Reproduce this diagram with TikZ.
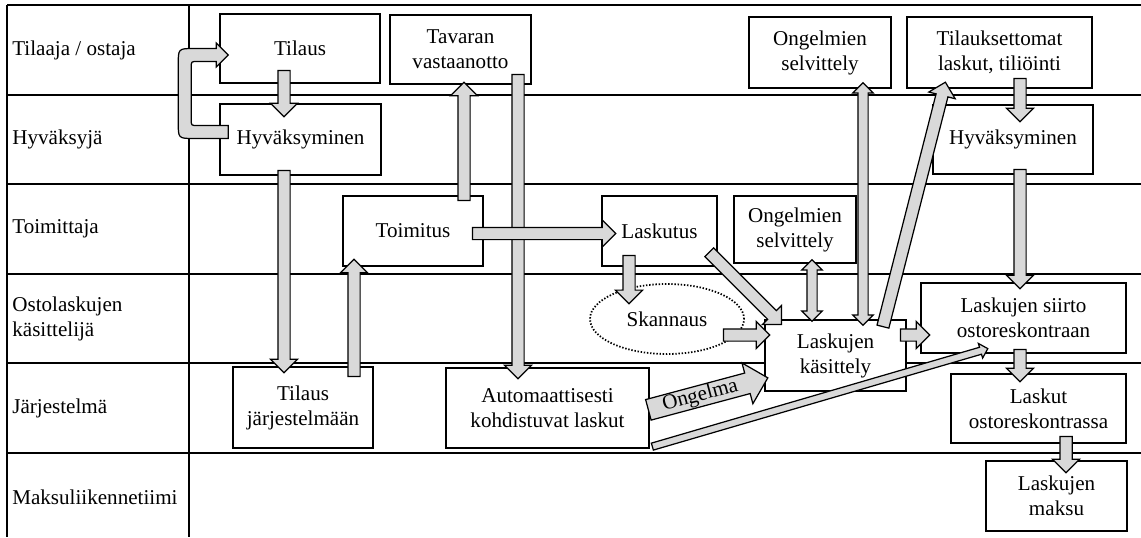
\documentclass[tikz,border=0pt]{standalone}
\usepackage{fontspec}
\setmainfont{Liberation Serif}
\usepackage{tikz}
\usetikzlibrary{shapes,calc}

% fat gray arrow: tail at #2, tip at #3
\newcommand{\fatarrow}[3][]{%
  \path let \p1=(#2), \p2=(#3),
    \n1={veclen(\x2-\x1,\y2-\y1)}, \n2={atan2(\y2-\y1,\x2-\x1)} in
    node[fat, anchor=tail, rotate=\n2, minimum height=\n1, #1] at (\p1) {};}
% fat gray arrow with a head at both ends
\newcommand{\fatboth}[2]{%
  \path let \p1=(#1), \p2=(#2),
    \n1={veclen(\x2-\x1,\y2-\y1)}, \n2={atan2(\y2-\y1,\x2-\x1)} in
    node[fatdbl, rotate=\n2, minimum height=\n1] at ($(\p1)!0.5!(\p2)$) {};}

\begin{document}
\begin{tikzpicture}[
  x=0.02cm, y=-0.02cm,
  box/.style={draw, line width=0.9pt, fill=white, align=center, inner sep=1pt,
    font=\fontsize{12}{14.2}\selectfont},
  lane/.style={anchor=west, align=left, inner sep=0pt,
    font=\fontsize{12}{14.2}\selectfont},
  grid/.style={line width=0.6pt},
  fat/.style={single arrow, draw=black, fill=black!15, line width=0.7pt,
    inner xsep=0pt, inner ysep=0.11cm, minimum width=0pt,
    single arrow head extend=0.15cm, single arrow tip angle=90},
  fatthin/.style={inner ysep=0.06cm, single arrow head extend=0.08cm},
  fatwide/.style={inner ysep=0.2cm, single arrow head extend=0.21cm},
  fatdbl/.style={double arrow, draw=black, fill=black!15, line width=0.7pt,
    inner xsep=0pt, inner ysep=0.09cm, minimum width=0pt,
    double arrow head extend=0.1cm, double arrow tip angle=90},
  fatline/.style={draw=black, fill=black!15, line width=0.7pt}
]
\useasboundingbox (0,0) rectangle (1141,537);
%% ─── Swimlane grid ─────────────────────────────────────────────────────────
\foreach \y in {5,95,184,274,363,453}
  \draw[grid] (7,\y) -- (1141,\y);
\draw[grid] (7,5) -- (7,537);
\draw[grid] (189,5) -- (189,537);
\node[lane] (r1) at (12,50)    {Tilaaja / ostaja};
\node[lane] (r2) at (12,139.5) {Hyväksyjä};
\node[lane] (r3) at (12,229)   {Toimittaja};
\node[lane] (r4) at (12,318.5) {Ostolaskujen\\käsittelijä};
\node[lane] (r5) at (12,408)   {Järjestelmä};
\node[lane] (r6) at (12,497)   {Maksuliikennetiimi};
%% ─── Order and delivery ────────────────────────────────────────────────────
\node[box, minimum width=3.2cm,  minimum height=1.38cm] (tilaus) at (300,48.5)   {Tilaus};
\node[box, minimum width=3.22cm, minimum height=1.42cm] (hyv1)   at (300.5,139.5) {Hyväksyminen};
\node[box, minimum width=2.82cm, minimum height=1.38cm] (tavara) at (460.5,49.5) {Tavaran\\vastaanotto};
\node[box, minimum width=2.8cm,  minimum height=1.4cm]  (toim)   at (413,231)    {Toimitus};
\node[box, minimum width=2.8cm,  minimum height=1.62cm] (tj)     at (303,407.5)  {Tilaus\\järjestelmään};
\node[box, minimum width=4.06cm, minimum height=1.6cm]  (akl)    at (547.5,408)  {Automaattisesti\\kohdistuvat laskut};
%% ─── Invoice handling ──────────────────────────────────────────────────────
\node[box, minimum width=2.3cm,  minimum height=1.4cm]  (lasku)  at (659.5,231)  {Laskutus};
\node[box, ellipse, line width=1pt, dash pattern=on 0.8pt off 1pt,
      minimum width=3.08cm, minimum height=1.4cm]       (skann)  at (667,319)    {Skannaus};
\node[box, minimum width=2.44cm, minimum height=1.34cm] (ongmid) at (795,229.5)  {Ongelmien\\selvittely};
\node[box, minimum width=2.84cm, minimum height=1.42cm] (ongtop) at (820,52.5)   {Ongelmien\\selvittely};
\node[box, minimum width=2.82cm, minimum height=1.42cm] (lk)     at (835.5,355.5) {Laskujen\\käsittely};
\node[box, minimum width=3.7cm,  minimum height=1.42cm] (tilm)   at (999.5,52.5) {Tilauksettomat\\laskut, tiliöinti};
\node[box, minimum width=3.2cm,  minimum height=1.38cm] (hyv2)   at (1013,139.5) {Hyväksyminen};
\node[box, minimum width=4.1cm,  minimum height=1.4cm]  (siirto) at (1023.5,318) {Laskujen siirto\\ostoreskontraan};
\node[box, minimum width=3.5cm,  minimum height=1.38cm] (lo)     at (1038.5,408.5) {Laskut\\ostoreskontrassa};
\node[box, minimum width=2.82cm, minimum height=1.4cm]  (maksu)  at (1056.5,496) {Laskujen\\maksu};
%% ─── Arrows ─────────────────────────────────────────────────────────────────
\draw[fatline, shift={(hyv1.west)}] (9,-1) -- (-25,-1) .. controls (-41,-1) .. (-41,-17)
  -- (-41,-75) .. controls (-41,-91) .. (-25,-91) -- (-3,-91) -- (-3,-96.5) -- (9,-84.5)
  -- (-3,-72.5) -- (-3,-78) -- (-22,-78) .. controls (-28,-78) .. (-28,-72)
  -- (-28,-20) .. controls (-28,-14) .. (-22,-14) -- (9,-14) -- cycle;
\fatarrow{$(tilaus.south)+(-16,-14)$}{$(hyv1.north)+(-16.5,13)$}
\fatarrow{$(hyv1.south)+(-16.5,-6)$}{$(tj.north)+(-19,6)$}
\fatarrow{$(tj.north)+(51,11)$}{$(toim.south)+(-59,-7)$}
\fatarrow{$(toim.north)+(51,6)$}{$(tavara.south)+(3.5,-2)$}
\fatarrow{$(tavara.south)+(57.5,-11)$}{$(akl.north)+(-29.5,11)$}
\fatarrow{$(toim.east)+(-12,2.5)$}{$(lasku.west)+(14,2.5)$}
\fatarrow{$(lasku.south)+(-30.5,-12)$}{$(skann.north)+(-38,20)$}
\fatarrow{$(lasku.south east)+(-9,-15)$}{$(lk.north west)+(17,5)$}
\fatarrow{$(skann.east)+(-22,16)$}{$(lk.west)+(5,-20.5)$}
\fatarrow[fatwide]{$(akl.east)+(-2,2)$}{$(lk.west)+(3,22.5)$}
\path let \p1=($(akl.east)+(-2,2)$), \p2=($(lk.west)+(3,22.5)$),
  \n2={atan2(\y2-\y1,\x2-\x1)} in
  node[rotate=\n2, inner sep=0pt, font=\fontsize{12}{14.2}\selectfont] (ongelma)
  at ($(\p1)!0.44!(\p2)$) {Ongelma};
\fatarrow[fatthin]{$(akl.south east)+(2,-2)$}{$(siirto.south west)+(67,-5)$}
\fatboth{$(ongmid.south)+(17,-4)$}{$(lk.north)+(-23.5,2)$}
\fatboth{$(ongtop.south)+(43,-6)$}{$(lk.north)+(27.5,6)$}
\fatarrow{$(lk.north east)+(-24,8)$}{$(tilm.south west)+(39,-6)$}
\fatarrow{$(tilm.south)+(20.5,-11)$}{$(hyv2.north)+(7,17)$}
\fatarrow{$(hyv2.south)+(7,-6)$}{$(siirto.north)+(-3.5,6)$}
\fatarrow{$(lk.east)+(-7,-20.5)$}{$(siirto.west)+(9,17)$}
\fatarrow{$(siirto.south)+(-3.5,-5)$}{$(lo.north)+(-18.5,8)$}
\fatarrow{$(lo.south)+(27.5,-8)$}{$(maksu.north)+(9.5,12)$}
\end{tikzpicture}
\end{document}
